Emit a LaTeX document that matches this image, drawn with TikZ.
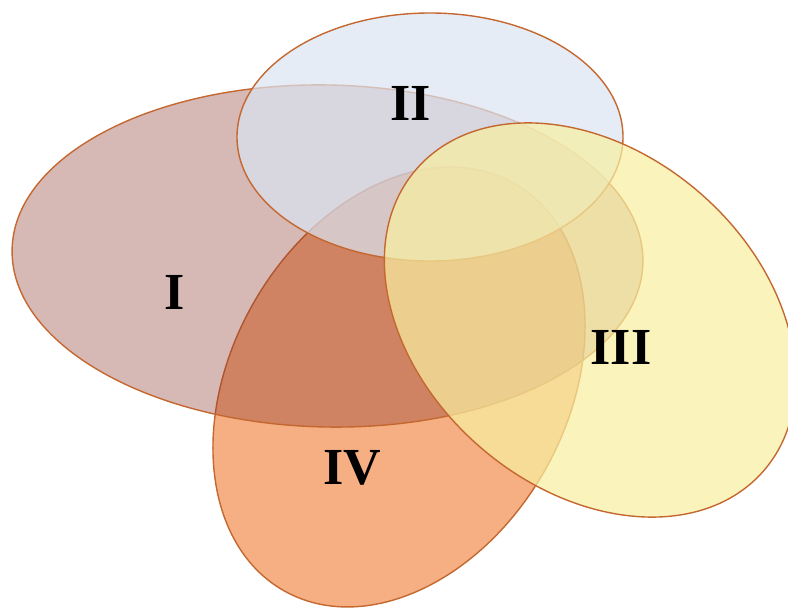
\documentclass[tikz,border=0pt]{standalone}
\usepackage{fontspec}
\setmainfont{Liberation Serif}
\definecolor{edgec}{RGB}{196,104,48}
\definecolor{cI}{RGB}{137,51,43}
\definecolor{cII}{RGB}{218,228,241}
\definecolor{cIII}{RGB}{248,239,161}
\definecolor{cIV}{RGB}{245,175,130}
\begin{document}
\begin{tikzpicture}[x=1pt,y=1pt,
  setshape/.style={draw=edgec, line width=1.4pt},
  lbl/.style={font=\fontsize{52}{52}\selectfont\bfseries, inner sep=0pt}]
\useasboundingbox (0,0) rectangle (788,608);
\begin{scope}
\clip (0,0) rectangle (788,608);
% IV
\path[setshape, fill=cIV] (399,221) ellipse [x radius=234, y radius=168, rotate=60.6];
% I
\path[setshape, fill=cI, fill opacity=0.35] (327.5,352) ellipse [x radius=315.5, y radius=171, rotate=-1.2];
% II
\path[setshape, fill=cII, fill opacity=0.7] (430,471) ellipse [x radius=193, y radius=124];
% III
\path[setshape, fill=cIII, fill opacity=0.71] (590,288) ellipse [x radius=230, y radius=168, rotate=-41];
\end{scope}
\node[lbl] (lI) at (175,316) {I};
\node[lbl] (lII) at (411,505) {II};
\node[lbl] (lIII) at (621,261) {III};
\node[lbl] (lIV) at (352,140) {IV};
\end{tikzpicture}
\end{document}
